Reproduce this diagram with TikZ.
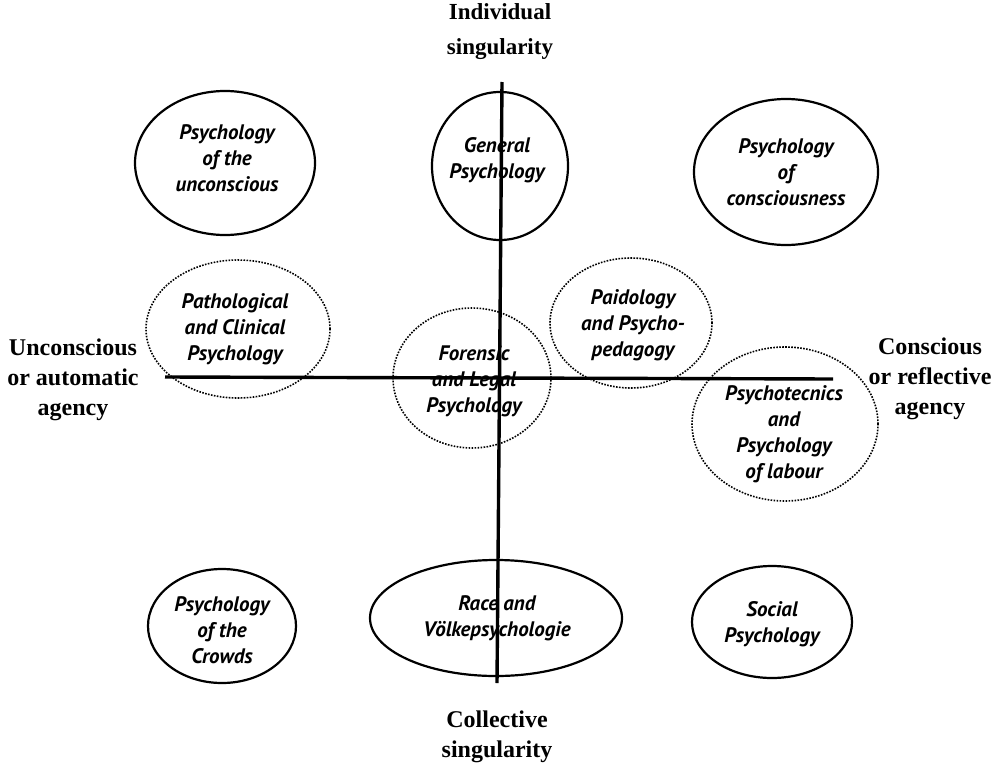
\documentclass[tikz,border=0pt]{standalone}
\usepackage{fontspec}
\setmainfont{Liberation Serif}
\newfontfamily\ellfont{PT Sans}
\usetikzlibrary{shapes.geometric}
\begin{document}
\begin{tikzpicture}[x=1pt,y=-1pt,
  solidell/.style={draw, ellipse, line width=2.2pt, inner sep=0pt},
  dotell/.style={draw, ellipse, line width=1.6pt, dash pattern=on 1.6pt off 1.4pt, inner sep=0pt},
  etext/.style={align=center, font=\ellfont\bfseries\itshape\fontsize{21}{26}\selectfont, inner sep=0pt},
  axlabel/.style={align=center, font=\bfseries\fontsize{24}{30}\selectfont, inner sep=0pt},
  axisline/.style={line width=3.4pt}]
\useasboundingbox (0,0) rectangle (992,768);

% solid ellipses, top row
\node[solidell, minimum width=180pt, minimum height=144pt] (unc) at (225,163) {};
\node[etext] (uncT) at (227,158) {Psychology\\of the\\unconscious};
\node[solidell, minimum width=136pt, minimum height=148pt] (gen) at (500,166) {};
\node[etext] (genT) at (497,160) {General\\Psychology};
\node[solidell, minimum width=184pt, minimum height=146pt] (con) at (786,172) {};
\node[etext] (conT) at (786,172) {Psychology\\of\\consciousness};

% dotted ellipses
\node[dotell, minimum width=184pt, minimum height=138pt] (pat) at (238,329) {};
\node[etext] (patT) at (235,329) {Pathological\\and Clinical\\Psychology};
\node[dotell, minimum width=158pt, minimum height=140pt] (for) at (472,378) {};
\node[etext] (forT) at (474,381) {Forensic\\and Legal\\Psychology};
\node[dotell, minimum width=162pt, minimum height=130pt] (pai) at (631,323) {};
\node[etext] (paiT) at (633,325) {Paidology\\and Psycho-\\pedagogy};
\node[dotell, minimum width=186pt, minimum height=154pt] (tec) at (785,424) {};
\node[etext] (tecT) at (784,434) {Psychotecnics\\and\\Psychology\\of labour};

% solid ellipses, bottom row
\node[solidell, minimum width=148pt, minimum height=114pt] (cro) at (222,626) {};
\node[etext] (croT) at (222,630) {Psychology\\of the\\Crowds};
\node[solidell, minimum width=252pt, minimum height=116pt] (rac) at (496,618) {};
\node[etext] (racT) at (497,618) {Race and\\Völkepsychologie};
\node[solidell, minimum width=160pt, minimum height=112pt] (soc) at (772,622) {};
\node[etext] (socT) at (772,624) {Social\\Psychology};

% axes
\coordinate (vtop) at (502,82);
\coordinate (vbot) at (497,683);
\coordinate (hl) at (165,377);
\coordinate (hr) at (833,379);
\draw[axisline] (hl) -- (hr);
\draw[axisline] (vtop) -- (vbot);

% axis labels
\node[axlabel, font=\bfseries\fontsize{23}{35}\selectfont] (ind) at (500,32) {Individual\\singularity};
\node[axlabel] (colL) at (497,737) {Collective\\singularity};
\node[axlabel] (uncL) at (73,380) {Unconscious\\or automatic\\agency};
\node[axlabel] (conL) at (930,379) {Conscious\\or reflective\\agency};
\end{tikzpicture}
\end{document}
